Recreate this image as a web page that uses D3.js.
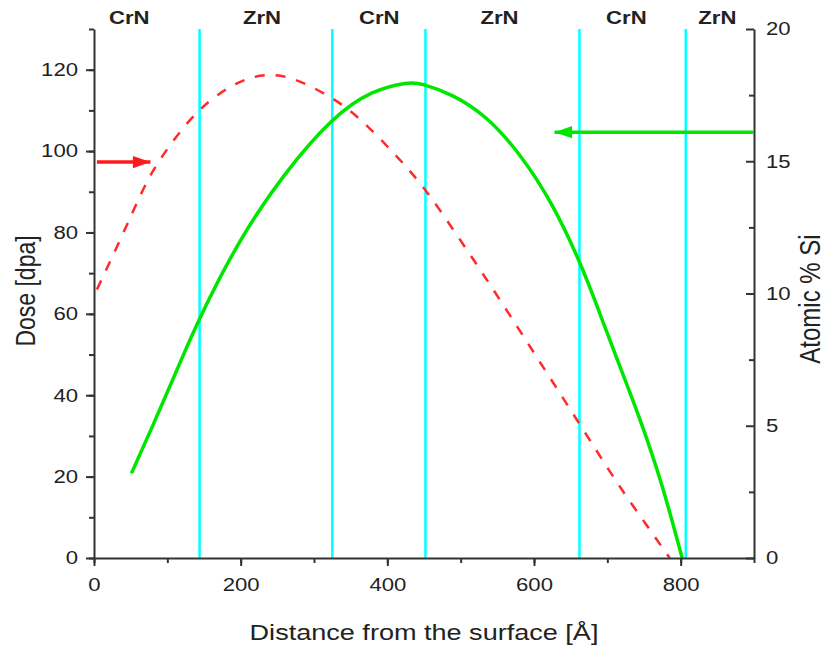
<!DOCTYPE html>
<html>
<head>
<meta charset="utf-8">
<script src="https://cdn.jsdelivr.net/npm/d3@7"></script>
<style>
  body { margin: 0; background: #fff; }
  text { font-family: "Liberation Sans", Arial, sans-serif; fill: #222; }
</style>
</head>
<body>
<svg id="chart" width="827" height="648"></svg>
<script>
// DATA
const doseX = [4, 38, 65, 85, 142, 201, 237, 271, 321, 358, 412, 451, 491, 528, 566, 605, 662, 716, 750, 785];
const doseY = [66, 79, 90, 97, 111, 117.7, 119, 118.2, 113.6, 109, 99, 91, 80.4, 70.5, 60, 49, 33, 17.6, 9, 0];
const siX = [51, 85, 113, 142, 199, 258, 326, 380, 430, 444, 489, 535, 580, 625, 666, 689, 712, 743, 775, 802];
const siY = [3.2, 5.3, 7.1, 9.0, 12.1, 14.5, 16.7, 17.7, 18.0, 17.96, 17.54, 16.72, 15.33, 13.44, 11.0, 9.3, 7.6, 5.4, 2.8, 0];
const interfaces = [144, 325, 452, 662, 807];
const layerNames = ["CrN", "ZrN", "CrN", "ZrN", "CrN", "ZrN"];
const layerPos = [48, 229, 389, 553, 726, 850];
const xTicks = [0, 200, 400, 600, 800];
const leftTicks = [0, 20, 40, 60, 80, 100, 120];
const rightTicks = [0, 5, 10, 15, 20];

const svg = d3.select("#chart");
const margin = {top: 29, right: 73, bottom: 90, left: 94};
const W = 827, H = 648;
const SX = 1.23; // text is drawn a bit wide, like the original

const x = d3.scaleLinear().domain([0, 900]).range([margin.left, W - margin.right]);
const yL = d3.scaleLinear().domain([0, 130]).range([H - margin.bottom, margin.top]);
const yR = d3.scaleLinear().domain([0, 20]).range([H - margin.bottom, margin.top]);

// arrow markers
const defs = svg.append("defs");
function marker(id, color){
    defs.append("marker").attr("id", id)
        .attr("viewBox", "0 0 10 10").attr("refX", 10).attr("refY", 5)
        .attr("markerWidth", 6).attr("markerHeight", 5).attr("orient", "auto")
        .attr("markerUnits", "strokeWidth")
        .append("path").attr("d", "M0,1.5 L10,5 L0,8.5 Z").attr("fill", color);
}
marker("arrRed", "#ff1a1a");
marker("arrGreen", "#00e600");

// interfaces
svg.selectAll(".iface").data(interfaces).enter().append("line")
    .attr("x1", d => x(d)).attr("x2", d => x(d))
    .attr("y1", margin.top).attr("y2", H - margin.bottom)
    .attr("stroke", "#00ffff").attr("stroke-width", 2.5);

// stretched text helper
function wideText(px, py, str, size, rot){
    return svg.append("text")
        .attr("transform", `translate(${px},${py}) scale(${SX},1)` + (rot ? ` rotate(${rot})` : ""))
        .attr("text-anchor", "middle").attr("font-size", size).text(str);
}

// layer labels
layerNames.forEach((d, i) => {
    wideText(x(layerPos[i]), 24, d, 18).attr("font-weight", "bold");
});

// curves
const doseLine = d3.line().x(d => x(d[0])).y(d => yL(d[1])).curve(d3.curveBasis);
svg.append("path").datum(d3.zip(doseX, doseY))
    .attr("d", doseLine).attr("fill", "none")
    .attr("stroke", "#ff2a2a").attr("stroke-width", 2.5).attr("stroke-dasharray", "10,11");

const siLine = d3.line().x(d => x(d[0])).y(d => yR(d[1])).curve(d3.curveBasis);
svg.append("path").datum(d3.zip(siX, siY))
    .attr("d", siLine).attr("fill", "none")
    .attr("stroke", "#00e600").attr("stroke-width", 3.5);

// arrows
svg.append("line").attr("x1", x(4)).attr("x2", x(77)).attr("y1", yL(97.3)).attr("y2", yL(97.3))
    .attr("stroke", "#ff1a1a").attr("stroke-width", 3.5).attr("marker-end", "url(#arrRed)");
svg.append("line").attr("x1", x(899)).attr("x2", x(628)).attr("y1", yR(16.1)).attr("y2", yR(16.1))
    .attr("stroke", "#00e600").attr("stroke-width", 3.5).attr("marker-end", "url(#arrGreen)");

// axes
const axisColor = "#333";
function styleAxis(g){
    g.select(".domain").attr("stroke", axisColor).attr("stroke-width", 2);
    g.selectAll(".tick line").attr("stroke", axisColor).attr("stroke-width", 2);
    g.selectAll(".tick text").attr("font-size", 18).attr("fill", "#222")
        .attr("font-family", "'Liberation Sans', Arial, sans-serif")
        .each(function(){
            const t = d3.select(this);
            const tx = +t.attr("x") || 0;
            t.attr("x", tx / SX).attr("transform", `scale(${SX},1)`);
        });
}

// bottom
const gx = svg.append("g").attr("transform", `translate(0,${H - margin.bottom})`);
gx.call(d3.axisBottom(x).tickValues(d3.range(0, 901, 100)).tickSize(5).tickSizeOuter(0).tickFormat(""));
gx.append("g").call(d3.axisBottom(x).tickValues(xTicks).tickSize(8).tickPadding(12).tickSizeOuter(0))
    .call(g => g.select(".domain").remove());
styleAxis(gx);

// left
const gl = svg.append("g").attr("transform", `translate(${margin.left},0)`);
gl.call(d3.axisLeft(yL).tickValues(d3.range(0, 131, 10)).tickSize(5).tickSizeOuter(0).tickFormat(""));
gl.append("g").call(d3.axisLeft(yL).tickValues(leftTicks).tickSize(8).tickPadding(8).tickSizeOuter(0))
    .call(g => g.select(".domain").remove());
styleAxis(gl);

// right (ticks point inward, labels outside)
const gr = svg.append("g").attr("transform", `translate(${W - margin.right},0)`);
gr.call(d3.axisLeft(yR).tickValues(d3.range(0, 20.1, 2.5)).tickSize(5).tickSizeOuter(0).tickFormat(""));
gr.selectAll(".tick").filter(d => d % 5 === 0).select("line").attr("x2", -8);
gr.selectAll(".rlab").data(rightTicks).enter().append("text")
    .attr("class", "rlab").attr("x", 12 / SX).attr("y", d => yR(d)).attr("dy", "0.35em")
    .attr("transform", `scale(${SX},1)`)
    .attr("text-anchor", "start").attr("font-size", 18).text(d => d);
styleAxis(gr);

// titles
wideText((margin.left + W - margin.right) / 2, 640, "Distance from the surface [Å]", 22);
wideText(35, 291, "Dose [dpa]", 23, -90);
wideText(820, 299, "Atomic % Si", 24, -90);
</script>
</body>
</html>
